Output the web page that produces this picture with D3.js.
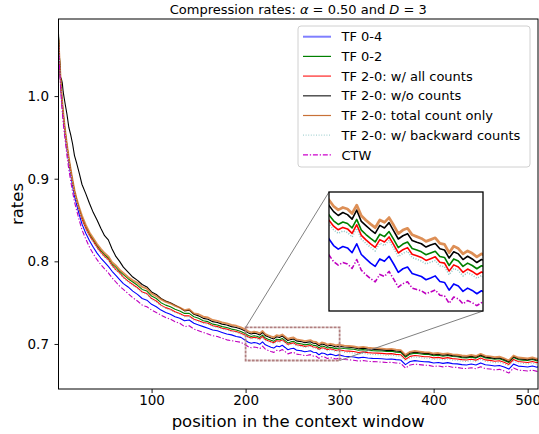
<!doctype html>
<html>
<head>
<meta charset="utf-8">
<title>Compression rates</title>
<script src="https://cdn.jsdelivr.net/npm/d3@7"></script>
<style>
  body { margin: 0; background: #fff; overflow: hidden; }
  svg { display: block; font-family: "DejaVu Sans", sans-serif; }
</style>
</head>
<body>
<svg id="chart" width="539" height="434"></svg>
<script>
var positions = [
  1, 2, 3, 4, 5, 6, 7, 8, 10, 12, 14, 16, 18, 20, 23, 26,
  30, 34, 38, 42, 46, 50, 54, 58, 62, 66, 70,
  75, 80, 85, 90, 95, 100, 105, 110, 115, 120, 125, 130, 135, 140, 145, 150, 155, 160, 165, 170, 175, 180, 185, 190, 195,
  200, 203, 206, 209, 212, 215, 218, 221, 224, 227, 230, 233, 236, 239, 242, 245, 248, 251, 254, 257, 260, 263, 266, 269, 272, 275, 278, 281, 284, 287, 290, 293, 296, 299,
  305, 310, 315, 320, 325, 330, 335, 340, 345, 350, 355, 360, 365, 370, 375, 380, 385, 390, 395, 400, 405, 410, 415, 420, 425, 430, 435, 440, 445, 450, 455, 460, 465, 470, 475, 480, 485, 490, 495, 500, 505, 510, 511
];

var tf04 = [
  1.066, 1.042, 1.021, 1.002, 0.988, 0.975, 0.964, 0.954, 0.936, 0.919, 0.905, 0.891, 0.879, 0.870, 0.857, 0.845,
  0.834, 0.825, 0.817, 0.810, 0.804, 0.799, 0.794, 0.788, 0.783, 0.778, 0.773,
  0.769, 0.764, 0.760, 0.755, 0.753, 0.748, 0.745, 0.741, 0.738, 0.736, 0.733, 0.731, 0.728, 0.729, 0.725, 0.723, 0.721, 0.719, 0.717, 0.716, 0.714, 0.712, 0.711, 0.709, 0.708,
  0.7042, 0.7020, 0.7008, 0.7017, 0.7012, 0.6996, 0.7026, 0.6990, 0.6975, 0.6961, 0.6950, 0.6975, 0.6967, 0.6984, 0.6958, 0.6930, 0.6942, 0.6948, 0.6926, 0.6921, 0.6916, 0.6905, 0.6911, 0.6918, 0.6899, 0.6896, 0.6870, 0.6891, 0.6884, 0.6866, 0.6877, 0.6869, 0.6858, 0.6868,
  0.6852, 0.6848, 0.6843, 0.6832, 0.6839, 0.6830, 0.6826, 0.6824, 0.6821, 0.6815, 0.6818, 0.6810, 0.6806, 0.6750, 0.6787, 0.6798, 0.6791, 0.6784, 0.6783, 0.6770, 0.6776, 0.6765, 0.6774, 0.6762, 0.6759, 0.6750, 0.6746, 0.6757, 0.6745, 0.6771, 0.6748, 0.6743, 0.6733, 0.6740, 0.6721, 0.6696, 0.6756, 0.6732, 0.6727, 0.6721, 0.6733, 0.6718, 0.6726
];

var tf02 = [
  1.072, 1.047, 1.025, 1.006, 0.992, 0.979, 0.968, 0.958, 0.940, 0.924, 0.910, 0.897, 0.885, 0.876, 0.864, 0.853,
  0.842, 0.833, 0.826, 0.819, 0.813, 0.808, 0.804, 0.797, 0.793, 0.788, 0.784,
  0.779, 0.775, 0.771, 0.766, 0.764, 0.758, 0.755, 0.750, 0.747, 0.745, 0.742, 0.740, 0.737, 0.737, 0.733, 0.731, 0.728, 0.727, 0.724, 0.723, 0.721, 0.720, 0.718, 0.717, 0.715,
  0.7123, 0.7103, 0.7091, 0.7099, 0.7094, 0.7079, 0.7108, 0.7072, 0.7057, 0.7044, 0.7032, 0.7058, 0.7050, 0.7067, 0.7041, 0.7013, 0.7025, 0.7032, 0.7010, 0.7005, 0.6999, 0.6989, 0.6995, 0.7001, 0.6983, 0.6980, 0.6953, 0.6975, 0.6968, 0.6950, 0.6961, 0.6953, 0.6942, 0.6952,
  0.6945, 0.6941, 0.6936, 0.6925, 0.6932, 0.6923, 0.6919, 0.6917, 0.6914, 0.6908, 0.6911, 0.6901, 0.6897, 0.6840, 0.6877, 0.6888, 0.6881, 0.6873, 0.6872, 0.6858, 0.6864, 0.6852, 0.6861, 0.6849, 0.6845, 0.6835, 0.6831, 0.6841, 0.6829, 0.6855, 0.6831, 0.6825, 0.6815, 0.6821, 0.6801, 0.6775, 0.6835, 0.6811, 0.6805, 0.6799, 0.6811, 0.6795, 0.6803
];

var allCounts = [
  1.070, 1.045, 1.024, 1.005, 0.991, 0.978, 0.967, 0.957, 0.939, 0.923, 0.909, 0.896, 0.884, 0.875, 0.862, 0.851,
  0.840, 0.831, 0.824, 0.817, 0.811, 0.806, 0.802, 0.795, 0.790, 0.786, 0.781,
  0.776, 0.772, 0.768, 0.763, 0.761, 0.755, 0.752, 0.747, 0.744, 0.742, 0.739, 0.737, 0.734, 0.734, 0.730, 0.728, 0.726, 0.725, 0.722, 0.721, 0.719, 0.718, 0.716, 0.715, 0.713,
  0.7105, 0.7085, 0.7073, 0.7081, 0.7076, 0.7061, 0.7090, 0.7054, 0.7039, 0.7026, 0.7014, 0.7040, 0.7032, 0.7049, 0.7023, 0.6995, 0.7006, 0.7013, 0.6991, 0.6986, 0.6980, 0.6970, 0.6976, 0.6982, 0.6964, 0.6961, 0.6934, 0.6955, 0.6948, 0.6930, 0.6941, 0.6933, 0.6922, 0.6931,
  0.6917, 0.6913, 0.6908, 0.6897, 0.6904, 0.6895, 0.6891, 0.6889, 0.6886, 0.6880, 0.6883, 0.6874, 0.6870, 0.6813, 0.6850, 0.6861, 0.6854, 0.6846, 0.6845, 0.6832, 0.6838, 0.6826, 0.6835, 0.6823, 0.6819, 0.6810, 0.6806, 0.6816, 0.6804, 0.6830, 0.6807, 0.6801, 0.6791, 0.6797, 0.6778, 0.6752, 0.6812, 0.6788, 0.6782, 0.6776, 0.6788, 0.6773, 0.6781
];

var noCounts = [
  1.075, 1.048, 1.023, 1.021, 1.016, 1.005, 0.998, 0.991, 0.978, 0.962, 0.953, 0.942, 0.928, 0.920, 0.907, 0.893,
  0.882, 0.870, 0.859, 0.850, 0.840, 0.831, 0.826, 0.815, 0.806, 0.800, 0.793,
  0.787, 0.781, 0.777, 0.772, 0.769, 0.763, 0.760, 0.755, 0.752, 0.750, 0.747, 0.744, 0.740, 0.741, 0.736, 0.734, 0.731, 0.730, 0.727, 0.726, 0.724, 0.723, 0.721, 0.720, 0.718,
  0.7155, 0.7134, 0.7121, 0.7131, 0.7124, 0.7109, 0.7139, 0.7101, 0.7087, 0.7073, 0.7061, 0.7088, 0.7079, 0.7097, 0.7069, 0.7042, 0.7053, 0.7060, 0.7037, 0.7031, 0.7026, 0.7015, 0.7022, 0.7027, 0.7009, 0.7005, 0.6978, 0.6999, 0.6992, 0.6973, 0.6984, 0.6975, 0.6963, 0.6973,
  0.6964, 0.6960, 0.6954, 0.6943, 0.6950, 0.6940, 0.6934, 0.6933, 0.6929, 0.6922, 0.6925, 0.6915, 0.6910, 0.6853, 0.6890, 0.6900, 0.6893, 0.6885, 0.6883, 0.6869, 0.6875, 0.6863, 0.6871, 0.6859, 0.6855, 0.6845, 0.6841, 0.6851, 0.6839, 0.6865, 0.6841, 0.6835, 0.6825, 0.6831, 0.6811, 0.6785, 0.6845, 0.6821, 0.6815, 0.6809, 0.6821, 0.6805, 0.6813
];

var totalOnly = [
  1.068, 1.046, 1.026, 1.007, 0.993, 0.980, 0.969, 0.959, 0.941, 0.925, 0.911, 0.898, 0.886, 0.877, 0.865, 0.855,
  0.844, 0.835, 0.828, 0.821, 0.815, 0.810, 0.806, 0.799, 0.795, 0.790, 0.786,
  0.781, 0.777, 0.774, 0.769, 0.767, 0.761, 0.758, 0.754, 0.751, 0.749, 0.746, 0.744, 0.741, 0.742, 0.737, 0.736, 0.733, 0.732, 0.729, 0.728, 0.726, 0.725, 0.723, 0.722, 0.720,
  0.7173, 0.7152, 0.7140, 0.7148, 0.7143, 0.7128, 0.7156, 0.7120, 0.7105, 0.7092, 0.7080, 0.7106, 0.7098, 0.7114, 0.7088, 0.7060, 0.7072, 0.7078, 0.7056, 0.7050, 0.7044, 0.7034, 0.7040, 0.7046, 0.7027, 0.7024, 0.6996, 0.7018, 0.7010, 0.6992, 0.7002, 0.6994, 0.6982, 0.6992,
  0.6980, 0.6975, 0.6970, 0.6958, 0.6965, 0.6955, 0.6950, 0.6948, 0.6944, 0.6938, 0.6940, 0.6930, 0.6925, 0.6868, 0.6905, 0.6915, 0.6908, 0.6900, 0.6898, 0.6884, 0.6890, 0.6878, 0.6886, 0.6874, 0.6870, 0.6860, 0.6856, 0.6866, 0.6854, 0.6880, 0.6856, 0.6850, 0.6840, 0.6846, 0.6826, 0.6800, 0.6860, 0.6836, 0.6830, 0.6824, 0.6836, 0.6820, 0.6828
];

var backward = [
  1.069, 1.044, 1.023, 1.004, 0.990, 0.977, 0.966, 0.956, 0.938, 0.922, 0.908, 0.895, 0.883, 0.874, 0.861, 0.850,
  0.839, 0.830, 0.823, 0.816, 0.810, 0.805, 0.801, 0.794, 0.789, 0.785, 0.780,
  0.775, 0.771, 0.767, 0.762, 0.760, 0.754, 0.751, 0.746, 0.743, 0.741, 0.738, 0.736, 0.733, 0.733, 0.729, 0.727, 0.725, 0.724, 0.721, 0.720, 0.718, 0.717, 0.715, 0.714, 0.712,
  0.7093, 0.7073, 0.7061, 0.7069, 0.7064, 0.7049, 0.7078, 0.7042, 0.7027, 0.7014, 0.7002, 0.7028, 0.7020, 0.7037, 0.7011, 0.6983, 0.6994, 0.7001, 0.6979, 0.6974, 0.6968, 0.6958, 0.6964, 0.6970, 0.6952, 0.6949, 0.6922, 0.6943, 0.6936, 0.6918, 0.6929, 0.6921, 0.6910, 0.6919,
  0.6899, 0.6895, 0.6890, 0.6879, 0.6886, 0.6877, 0.6873, 0.6871, 0.6868, 0.6862, 0.6865, 0.6856, 0.6852, 0.6795, 0.6832, 0.6843, 0.6836, 0.6828, 0.6827, 0.6814, 0.6820, 0.6808, 0.6817, 0.6805, 0.6801, 0.6792, 0.6788, 0.6798, 0.6786, 0.6812, 0.6789, 0.6783, 0.6773, 0.6779, 0.6760, 0.6734, 0.6794, 0.6770, 0.6764, 0.6758, 0.6770, 0.6755, 0.6763
];

var ctw = [
  1.062, 1.037, 1.015, 0.996, 0.981, 0.968, 0.957, 0.947, 0.928, 0.911, 0.897, 0.884, 0.872, 0.863, 0.850, 0.838,
  0.827, 0.817, 0.809, 0.802, 0.796, 0.791, 0.786, 0.780, 0.775, 0.770, 0.766,
  0.761, 0.756, 0.752, 0.747, 0.745, 0.741, 0.738, 0.735, 0.732, 0.730, 0.727, 0.725, 0.721, 0.722, 0.718, 0.716, 0.714, 0.712, 0.710, 0.709, 0.707, 0.705, 0.704, 0.703, 0.702,
  0.6988, 0.6966, 0.6954, 0.6963, 0.6958, 0.6943, 0.6973, 0.6937, 0.6922, 0.6909, 0.6898, 0.6923, 0.6916, 0.6933, 0.6907, 0.6880, 0.6892, 0.6898, 0.6877, 0.6872, 0.6868, 0.6858, 0.6864, 0.6871, 0.6853, 0.6851, 0.6826, 0.6847, 0.6841, 0.6824, 0.6835, 0.6828, 0.6818, 0.6828,
  0.6812, 0.6808, 0.6803, 0.6792, 0.6799, 0.6790, 0.6786, 0.6784, 0.6781, 0.6775, 0.6778, 0.6770, 0.6766, 0.6708, 0.6746, 0.6757, 0.6750, 0.6743, 0.6741, 0.6728, 0.6734, 0.6723, 0.6731, 0.6719, 0.6716, 0.6706, 0.6702, 0.6713, 0.6700, 0.6725, 0.6702, 0.6697, 0.6686, 0.6693, 0.6673, 0.6648, 0.6708, 0.6684, 0.6678, 0.6672, 0.6684, 0.6668, 0.6676
];

var xTicks = [100, 200, 300, 400, 500];
var yTicks = [0.7, 0.8, 0.9, 1.0];

// plotted in legend order; legend handles look a little lighter than the lines
var series = [
  { name: 'TF 0-4', values: tf04, color: '#0000ff', width: 1.1, legendColor: '#7f7fff', legendWidth: 2 },
  { name: 'TF 0-2', values: tf02, color: '#008000', width: 1.1, legendColor: '#008000', legendWidth: 1.2 },
  { name: 'TF 2-0: w/ all counts', values: allCounts, color: '#ff0000', width: 1.1, legendColor: '#ff4444', legendWidth: 1.4 },
  { name: 'TF 2-0: w/o counts', values: noCounts, color: '#000000', width: 1.1, legendColor: '#444444', legendWidth: 1.4 },
  { name: 'TF 2-0: total count only', values: totalOnly, color: '#d2691e', width: 1.9, opacity: 0.75, legendColor: '#c87137', legendWidth: 1.2 },
  { name: 'TF 2-0: w/ backward counts', values: backward, color: '#8fc7c7', width: 1.1, dash: '1,1.6', legendColor: '#a9d4d4', legendWidth: 1.2 },
  { name: 'CTW', values: ctw, color: '#bf00bf', width: 1.1, dash: '5,1.8,1.3,1.8', legendColor: '#cc00cc', legendWidth: 1.2 }
];

var svg = d3.select('#chart');
// plot box (window.top is read-only, so no bare "top")
var box = { left: 58.5, right: 538, top: 19, bottom: 389 };

var x = d3.scaleLinear().domain([1, 511]).range([box.left, box.right]);
var y = d3.scaleLinear().domain([0.6455, 1.0933]).range([box.bottom, box.top]);

var defs = svg.append('defs');
defs.append('clipPath').attr('id', 'plot-clip')
  .append('rect').attr('x', box.left).attr('y', box.top)
  .attr('width', box.right - box.left).attr('height', box.bottom - box.top);

function drawLines(g, xs, ys, scaleWidth) {
  series.forEach(function(s) {
    var line = d3.line()
      .x(function(d, i) { return xs(positions[i]); })
      .y(function(d) { return ys(d); });
    g.append('path')
      .datum(s.values)
      .attr('fill', 'none')
      .attr('stroke', s.color)
      .attr('stroke-width', s.width * scaleWidth)
      .attr('stroke-opacity', s.opacity || 1)
      .attr('stroke-dasharray', s.dash || null)
      .attr('stroke-linejoin', 'round')
      .attr('d', line);
  });
}

drawLines(svg.append('g').attr('clip-path', 'url(#plot-clip)'), x, y, 1);

// axes
var xAxis = svg.append('g')
  .attr('transform', 'translate(0,' + box.bottom + ')')
  .call(d3.axisBottom(x).tickValues(xTicks).tickSize(4).tickPadding(2.5).tickSizeOuter(0));
var yAxis = svg.append('g')
  .attr('transform', 'translate(' + box.left + ',0)')
  .call(d3.axisLeft(y).tickValues(yTicks).tickFormat(d3.format('.1f')).tickSize(4).tickPadding(5.5).tickSizeOuter(0));
[xAxis, yAxis].forEach(function(a) {
  a.select('.domain').remove();
  a.selectAll('line').attr('stroke', '#000').attr('stroke-width', 0.9);
  a.selectAll('text').attr('fill', '#000').style('font-size', '13.5px').style('font-family', '"DejaVu Sans", sans-serif');
});

svg.append('rect')
  .attr('x', box.left).attr('y', box.top).attr('width', box.right - box.left).attr('height', box.bottom - box.top)
  .attr('fill', 'none').attr('stroke', '#000').attr('stroke-width', 1);

// zoomed region and connectors
var zoomX = [200, 300], zoomY = [0.68, 0.72];
var inset = { x0: 329, y0: 192, x1: 483, y1: 311 };

svg.append('rect')
  .attr('x', x(zoomX[0])).attr('y', y(zoomY[1]))
  .attr('width', x(zoomX[1]) - x(zoomX[0])).attr('height', y(zoomY[0]) - y(zoomY[1]))
  .attr('fill', 'none').attr('stroke', '#b07f7f').attr('stroke-width', 1.8).attr('stroke-dasharray', '3,1');
svg.append('line')
  .attr('x1', x(zoomX[0])).attr('y1', y(zoomY[1])).attr('x2', inset.x0).attr('y2', inset.y0)
  .attr('stroke', '#808080').attr('stroke-width', 1);
svg.append('line')
  .attr('x1', x(zoomX[1])).attr('y1', y(zoomY[0])).attr('x2', inset.x1).attr('y2', inset.y1)
  .attr('stroke', '#808080').attr('stroke-width', 1);

// inset axes
var xi = d3.scaleLinear().domain(zoomX).range([inset.x0, inset.x1]);
var yi = d3.scaleLinear().domain(zoomY).range([inset.y1, inset.y0]);
defs.append('clipPath').attr('id', 'inset-clip')
  .append('rect').attr('x', inset.x0).attr('y', inset.y0).attr('width', inset.x1 - inset.x0).attr('height', inset.y1 - inset.y0);
svg.append('rect')
  .attr('x', inset.x0).attr('y', inset.y0).attr('width', inset.x1 - inset.x0).attr('height', inset.y1 - inset.y0)
  .attr('fill', '#fff');
drawLines(svg.append('g').attr('clip-path', 'url(#inset-clip)'), xi, yi, 1.45);
svg.append('rect')
  .attr('x', inset.x0).attr('y', inset.y0).attr('width', inset.x1 - inset.x0).attr('height', inset.y1 - inset.y0)
  .attr('fill', 'none').attr('stroke', '#000').attr('stroke-width', 1.3);

// legend
var legend = svg.append('g').attr('transform', 'translate(298,26)');
legend.append('rect')
  .attr('width', 232).attr('height', 141).attr('rx', 3)
  .attr('fill', '#fff').attr('fill-opacity', 0.8).attr('stroke', '#d0d0d0').attr('stroke-width', 1);
series.forEach(function(s, i) {
  var ly = 10.7 + i * 19.7;
  legend.append('line')
    .attr('x1', 5).attr('x2', 33).attr('y1', ly).attr('y2', ly)
    .attr('stroke', s.legendColor).attr('stroke-width', s.legendWidth)
    .attr('stroke-dasharray', s.dash || null);
  legend.append('text')
    .attr('x', 43.5).attr('y', ly).attr('dy', '0.36em')
    .style('font-size', '13px').attr('fill', '#000')
    .text(s.name);
});

// title and axis labels
var title = svg.append('text')
  .attr('x', (box.left + box.right) / 2).attr('y', 14)
  .attr('text-anchor', 'middle').style('font-size', '13px').attr('fill', '#000');
title.append('tspan').text('Compression rates: ');
title.append('tspan').style('font-style', 'italic').text('\u03b1');
title.append('tspan').text(' = 0.50 and ');
title.append('tspan').style('font-style', 'italic').text('D');
title.append('tspan').text(' = 3');

svg.append('text')
  .attr('x', (box.left + box.right) / 2).attr('y', 427)
  .attr('text-anchor', 'middle').style('font-size', '16.5px').attr('fill', '#000')
  .text('position in the context window');

svg.append('text')
  .attr('transform', 'translate(23,' + ((box.top + box.bottom) / 2) + ') rotate(-90)')
  .attr('text-anchor', 'middle').style('font-size', '16.5px').attr('fill', '#000')
  .text('rates');
</script>
</body>
</html>
